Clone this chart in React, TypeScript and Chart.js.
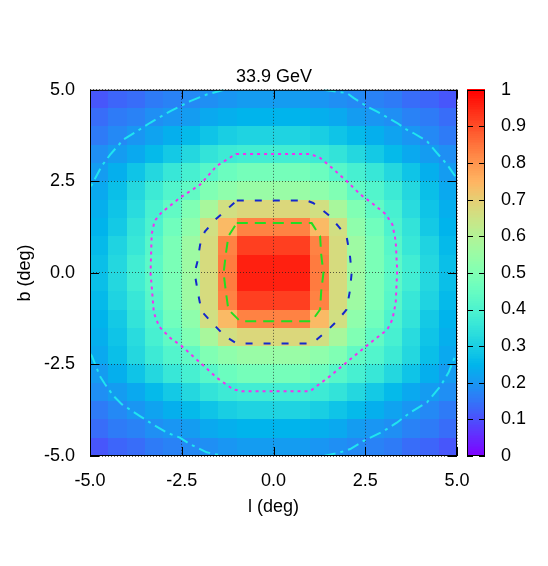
import React, { useEffect, useRef } from 'react';
import { Chart, registerables } from 'chart.js';

Chart.register(...registerables);

const TITLE = '33.9 GeV';
const X_LABEL = 'l (deg)';
const Y_LABEL = 'b (deg)';

// cell centres (deg)
const L_CENTERS = [-4.75, -4.25, -3.75, -3.25, -2.75, -2.25, -1.75, -1.25, -0.75, -0.25, 0.25, 0.75, 1.25, 1.75, 2.25, 2.75, 3.25, 3.75, 4.25, 4.75];
const B_CENTERS = [4.75, 4.25, 3.75, 3.25, 2.75, 2.25, 1.75, 1.25, 0.75, 0.25, -0.25, -0.75, -1.25, -1.75, -2.25, -2.75, -3.25, -3.75, -4.25, -4.75];
const CELL_HALF = 0.25;

const X_TICKS = [-5, -2.5, 0, 2.5, 5];
const Y_TICKS = [-5, -2.5, 0, 2.5, 5];
const CB_TICKS = [0, 0.1, 0.2, 0.3, 0.4, 0.5, 0.6, 0.7, 0.8, 0.9, 1];

// normalised intensity, rows from b = 4.75 (top) to b = -4.75 (bottom)
const INTENSITY: number[][] = [
  [0.11, 0.13, 0.14, 0.16, 0.17, 0.18, 0.19, 0.20, 0.21, 0.21, 0.21, 0.21, 0.20, 0.19, 0.18, 0.17, 0.16, 0.14, 0.13, 0.11],
  [0.14, 0.16, 0.17, 0.19, 0.20, 0.21, 0.23, 0.24, 0.25, 0.25, 0.25, 0.25, 0.24, 0.23, 0.21, 0.20, 0.19, 0.17, 0.16, 0.14],
  [0.16, 0.18, 0.20, 0.22, 0.24, 0.26, 0.28, 0.30, 0.31, 0.31, 0.31, 0.31, 0.30, 0.28, 0.26, 0.24, 0.22, 0.20, 0.18, 0.16],
  [0.19, 0.21, 0.23, 0.26, 0.29, 0.32, 0.35, 0.37, 0.38, 0.38, 0.38, 0.38, 0.37, 0.35, 0.32, 0.29, 0.26, 0.23, 0.21, 0.19],
  [0.21, 0.24, 0.28, 0.32, 0.36, 0.39, 0.42, 0.46, 0.48, 0.48, 0.48, 0.48, 0.46, 0.42, 0.39, 0.36, 0.32, 0.28, 0.24, 0.21],
  [0.23, 0.27, 0.32, 0.37, 0.41, 0.44, 0.50, 0.53, 0.55, 0.55, 0.55, 0.55, 0.53, 0.50, 0.44, 0.41, 0.37, 0.32, 0.27, 0.23],
  [0.24, 0.28, 0.33, 0.39, 0.44, 0.50, 0.58, 0.66, 0.68, 0.68, 0.68, 0.68, 0.66, 0.58, 0.50, 0.44, 0.39, 0.33, 0.28, 0.24],
  [0.25, 0.29, 0.35, 0.40, 0.47, 0.53, 0.66, 0.74, 0.83, 0.83, 0.83, 0.83, 0.74, 0.66, 0.53, 0.47, 0.40, 0.35, 0.29, 0.25],
  [0.26, 0.31, 0.36, 0.42, 0.49, 0.56, 0.67, 0.83, 0.92, 0.92, 0.92, 0.92, 0.83, 0.67, 0.56, 0.49, 0.42, 0.36, 0.31, 0.26],
  [0.27, 0.32, 0.38, 0.43, 0.49, 0.56, 0.67, 0.84, 0.96, 0.96, 0.96, 0.96, 0.84, 0.67, 0.56, 0.49, 0.43, 0.38, 0.32, 0.27],
  [0.27, 0.32, 0.38, 0.43, 0.49, 0.56, 0.67, 0.84, 0.96, 0.96, 0.96, 0.96, 0.84, 0.67, 0.56, 0.49, 0.43, 0.38, 0.32, 0.27],
  [0.26, 0.31, 0.36, 0.42, 0.49, 0.56, 0.67, 0.83, 0.92, 0.92, 0.92, 0.92, 0.83, 0.67, 0.56, 0.49, 0.42, 0.36, 0.31, 0.26],
  [0.25, 0.29, 0.35, 0.40, 0.47, 0.53, 0.66, 0.74, 0.83, 0.83, 0.83, 0.83, 0.74, 0.66, 0.53, 0.47, 0.40, 0.35, 0.29, 0.25],
  [0.24, 0.28, 0.33, 0.39, 0.44, 0.50, 0.58, 0.66, 0.68, 0.68, 0.68, 0.68, 0.66, 0.58, 0.50, 0.44, 0.39, 0.33, 0.28, 0.24],
  [0.23, 0.27, 0.32, 0.37, 0.41, 0.44, 0.50, 0.53, 0.55, 0.55, 0.55, 0.55, 0.53, 0.50, 0.44, 0.41, 0.37, 0.32, 0.27, 0.23],
  [0.21, 0.24, 0.28, 0.32, 0.36, 0.39, 0.42, 0.46, 0.48, 0.48, 0.48, 0.48, 0.46, 0.42, 0.39, 0.36, 0.32, 0.28, 0.24, 0.21],
  [0.19, 0.21, 0.23, 0.26, 0.29, 0.32, 0.35, 0.37, 0.38, 0.38, 0.38, 0.38, 0.37, 0.35, 0.32, 0.29, 0.26, 0.23, 0.21, 0.19],
  [0.16, 0.18, 0.20, 0.22, 0.24, 0.26, 0.28, 0.30, 0.31, 0.31, 0.31, 0.31, 0.30, 0.28, 0.26, 0.24, 0.22, 0.20, 0.18, 0.16],
  [0.14, 0.16, 0.17, 0.19, 0.20, 0.21, 0.23, 0.24, 0.25, 0.25, 0.25, 0.25, 0.24, 0.23, 0.21, 0.20, 0.19, 0.17, 0.16, 0.14],
  [0.11, 0.13, 0.14, 0.16, 0.17, 0.18, 0.19, 0.20, 0.21, 0.21, 0.21, 0.21, 0.20, 0.19, 0.18, 0.17, 0.16, 0.14, 0.13, 0.11],
];

// contour lines, points in (l, b) degrees
const CONTOUR_GREEN = [
  [-1.0, 1.36], [1.04, 1.36], [1.27, 1.0], [1.3, 0.5], [1.36, 0.0], [1.3, -0.5], [1.27, -1.0], [1.04, -1.32],
  [-0.91, -1.32], [-1.23, -1.0], [-1.3, -0.5], [-1.36, 0.0], [-1.3, 0.5], [-1.23, 1.0], [-1.0, 1.36],
];
const CONTOUR_BLUE = [
  [-1.0, 1.98], [0.9, 1.98], [1.08, 1.91], [1.49, 1.59], [1.77, 1.27], [1.99, 1.0], [2.08, 0.5], [2.13, 0.0],
  [2.08, -0.5], [1.99, -1.0], [1.77, -1.27], [1.45, -1.59], [1.13, -1.86], [1.0, -1.93], [-1.0, -1.93],
  [-1.32, -1.73], [-1.59, -1.45], [-1.96, -1.05], [-2.05, -0.59], [-2.15, 0.0], [-2.07, 0.32], [-2.0, 0.77],
  [-1.87, 1.13], [-1.59, 1.45], [-1.23, 1.77], [-1.0, 1.98],
];
const CONTOUR_MAGENTA = [
  [-1.02, 3.25], [1.0, 3.25], [1.27, 3.14], [1.59, 2.87], [2.0, 2.5], [2.37, 2.14], [2.73, 1.87], [3.06, 1.6],
  [3.24, 1.32], [3.33, 0.87], [3.37, 0.05], [3.33, -0.82], [3.24, -1.27], [3.1, -1.55], [2.64, -1.91],
  [2.09, -2.36], [1.54, -2.82], [1.18, -3.09], [1.0, -3.23], [-0.87, -3.23], [-1.1, -3.18], [-1.55, -2.86],
  [-2.0, -2.45], [-2.5, -2.0], [-2.82, -1.77], [-3.12, -1.46], [-3.26, -1.09], [-3.35, 0.0], [-3.32, 1.05],
  [-3.24, 1.42], [-3.06, 1.64], [-2.55, 2.05], [-2.0, 2.41], [-1.55, 2.92], [-1.02, 3.25],
];
const CONTOUR_CYAN_TL = [
  [-1.35, 5.0], [-1.82, 4.87], [-2.27, 4.69], [-2.82, 4.41], [-3.36, 4.1], [-3.75, 3.85], [-4.09, 3.64],
  [-4.45, 3.23], [-4.68, 2.92], [-4.95, 2.41], [-5.0, 2.3],
];
const CONTOUR_CYAN_TR = [
  [1.37, 5.0], [2.0, 4.91], [2.18, 4.78], [2.54, 4.55], [2.81, 4.41], [3.36, 4.1], [3.63, 3.91], [3.81, 3.82],
  [4.18, 3.6], [4.45, 3.28], [4.73, 2.96], [4.95, 2.64], [5.0, 2.55],
];
const CONTOUR_CYAN_BL = [
  [-5.0, -2.2], [-4.95, -2.27], [-4.73, -2.82], [-4.59, -3.04], [-4.36, -3.36], [-4.13, -3.59], [-3.64, -3.91],
  [-3.36, -4.09], [-2.91, -4.36], [-2.55, -4.5], [-2.27, -4.68], [-1.82, -4.9], [-1.37, -5.0],
];
const CONTOUR_CYAN_BR = [
  [1.37, -5.0], [1.82, -4.9], [2.09, -4.81], [2.45, -4.59], [3.0, -4.32], [3.36, -4.09], [3.73, -3.81],
  [4.18, -3.54], [4.55, -3.09], [4.77, -2.72], [4.95, -2.27], [5.0, -2.2],
];

const FONT = "'Liberation Sans', Arial, Helvetica, sans-serif";
const FS = 18;

function palette(v: number): string {
  const t = Math.min(1, Math.max(0, v));
  const r = Math.min(1, Math.abs(2 * t - 0.5));
  const g = Math.max(0, Math.sin(Math.PI * t));
  const b = Math.max(0, Math.cos((Math.PI * t) / 2));
  return `rgb(${Math.round(r * 255)},${Math.round(g * 255)},${Math.round(b * 255)})`;
}

const CB_GAP = 10;
const CB_WIDTH = 18;

const heatmapPlugin = {
  id: 'heatmap',
  beforeDraw(chart: any) {
    const { ctx, chartArea } = chart;
    const xs = chart.scales.x;
    const ys = chart.scales.y;
    const cb = chart.scales.cb;
    ctx.save();
    B_CENTERS.forEach((b, r) => {
      L_CENTERS.forEach((l, c) => {
        const x0 = Math.round(xs.getPixelForValue(l - CELL_HALF));
        const x1 = Math.round(xs.getPixelForValue(l + CELL_HALF));
        const y0 = Math.round(ys.getPixelForValue(b + CELL_HALF));
        const y1 = Math.round(ys.getPixelForValue(b - CELL_HALF));
        ctx.fillStyle = palette(INTENSITY[r][c]);
        ctx.fillRect(x0, y0, x1 - x0, y1 - y0);
      });
    });
    // colour bar
    const cbLeft = chartArea.right + CB_GAP;
    const N = 200;
    for (let i = 0; i < N; i++) {
      const v0 = i / N;
      const v1 = (i + 1) / N;
      const yt = cb.getPixelForValue(v1);
      const yb = cb.getPixelForValue(v0);
      ctx.fillStyle = palette((v0 + v1) / 2);
      ctx.fillRect(cbLeft, Math.floor(yt), CB_WIDTH, Math.ceil(yb) - Math.floor(yt));
    }
    ctx.restore();
  },
  afterDraw(chart: any) {
    const { ctx, chartArea } = chart;
    const xs = chart.scales.x;
    const ys = chart.scales.y;
    const cb = chart.scales.cb;
    const { left, right, top, bottom } = chartArea;
    ctx.save();
    ctx.strokeStyle = '#000';
    ctx.lineWidth = 1;
    ctx.setLineDash([]);
    ctx.strokeRect(left + 0.5, top + 0.5, right - left - 1, bottom - top - 1);
    const TL = 9;
    ctx.beginPath();
    X_TICKS.forEach((v) => {
      const px = Math.round(xs.getPixelForValue(v)) + 0.5;
      ctx.moveTo(px, bottom);
      ctx.lineTo(px, bottom - TL);
      ctx.moveTo(px, top);
      ctx.lineTo(px, top + TL);
    });
    Y_TICKS.forEach((v) => {
      const py = Math.round(ys.getPixelForValue(v)) + 0.5;
      ctx.moveTo(left, py);
      ctx.lineTo(left + TL, py);
      ctx.moveTo(right, py);
      ctx.lineTo(right - TL, py);
    });
    ctx.stroke();
    // colour bar frame and ticks
    const cbLeft = chartArea.right + CB_GAP;
    const yt = Math.round(cb.getPixelForValue(1));
    const yb = Math.round(cb.getPixelForValue(0));
    ctx.strokeRect(cbLeft + 0.5, yt + 0.5, CB_WIDTH - 1, yb - yt - 1);
    ctx.beginPath();
    CB_TICKS.forEach((v) => {
      const py = Math.round(cb.getPixelForValue(v)) + 0.5;
      ctx.moveTo(cbLeft, py);
      ctx.lineTo(cbLeft + 6, py);
      ctx.moveTo(cbLeft + CB_WIDTH - 6, py);
      ctx.lineTo(cbLeft + CB_WIDTH, py);
    });
    ctx.stroke();
    ctx.restore();
  },
};

function toXY(arr: number[][]) {
  return arr.map(([x, y]) => ({ x, y }));
}

function contour(data: number[][], color: string, dash: number[]) {
  return {
    data: toXY(data),
    showLine: true,
    borderColor: color,
    backgroundColor: color,
    borderWidth: 2,
    borderDash: dash,
    pointRadius: 0,
    tension: 0,
    fill: false,
  };
}

const fmt1 = (v: any) => Number(v).toFixed(1);

export default function App() {
  const ref = useRef<HTMLCanvasElement | null>(null);
  useEffect(() => {
    if (!ref.current) return;
    Chart.defaults.font.family = FONT;
    Chart.defaults.font.size = FS;
    Chart.defaults.color = '#000';
    const cyanDash = [12, 5, 3, 5];
    const chart = new Chart(ref.current, {
      type: 'scatter',
      data: {
        datasets: [
          contour(CONTOUR_CYAN_TL, '#20e4f0', cyanDash),
          contour(CONTOUR_CYAN_TR, '#20e4f0', cyanDash),
          contour(CONTOUR_CYAN_BL, '#20e4f0', cyanDash),
          contour(CONTOUR_CYAN_BR, '#20e4f0', cyanDash),
          contour(CONTOUR_MAGENTA, '#f030f0', [3, 4]),
          contour(CONTOUR_BLUE, '#1428cc', [7, 11]),
          contour(CONTOUR_GREEN, '#22dd22', [11, 7]),
        ] as any,
      },
      options: {
        animation: false,
        responsive: false,
        layout: { padding: { left: 0, right: 0, top: 0, bottom: 38 } },
        plugins: {
          legend: { display: false },
          tooltip: { enabled: false },
          title: {
            display: true,
            text: TITLE,
            font: { size: FS, weight: 'normal' as any },
            color: '#000',
            padding: { top: 57.9, bottom: 2.3 },
          },
        },
        scales: {
          x: {
            type: 'linear',
            min: -5,
            max: 5,
            afterBuildTicks: (s: any) => { s.ticks = X_TICKS.map((value) => ({ value })); },
            afterFit: (s: any) => { s.height = 64; },
            ticks: { callback: fmt1, padding: 14.5, maxRotation: 0, font: { size: FS } },
            grid: { drawTicks: false, color: 'rgba(30,30,30,0.7)', lineWidth: 1 },
            border: { display: false, dash: [1, 2] },
            title: { display: true, text: X_LABEL, font: { size: FS }, padding: { top: 0, bottom: 2.5 } },
          },
          y: {
            type: 'linear',
            min: -5,
            max: 5,
            afterBuildTicks: (s: any) => { s.ticks = Y_TICKS.map((value) => ({ value })); },
            afterFit: (s: any) => { s.width = 82; },
            ticks: { callback: fmt1, padding: 15, font: { size: FS } },
            grid: { drawTicks: false, color: 'rgba(30,30,30,0.7)', lineWidth: 1 },
            border: { display: false, dash: [1, 2] },
            title: { display: true, text: Y_LABEL, font: { size: FS }, padding: { top: 6.6, bottom: 0 } },
          },
          cb: {
            type: 'linear',
            axis: 'y',
            position: 'right',
            min: 0,
            max: 1,
            afterBuildTicks: (s: any) => { s.ticks = CB_TICKS.map((value) => ({ value })); },
            afterFit: (s: any) => { s.width = 83; },
            ticks: { callback: (v: any) => String(Number(Number(v).toFixed(1))), padding: 44, font: { size: FS } },
            grid: { display: false, drawTicks: false },
            border: { display: false },
          },
        } as any,
      },
      plugins: [heatmapPlugin],
    });
    return () => chart.destroy();
  }, []);
  return (
    <div style={{ width: 532, height: 550 }}>
      <canvas ref={ref} width={532} height={550} />
    </div>
  );
}
